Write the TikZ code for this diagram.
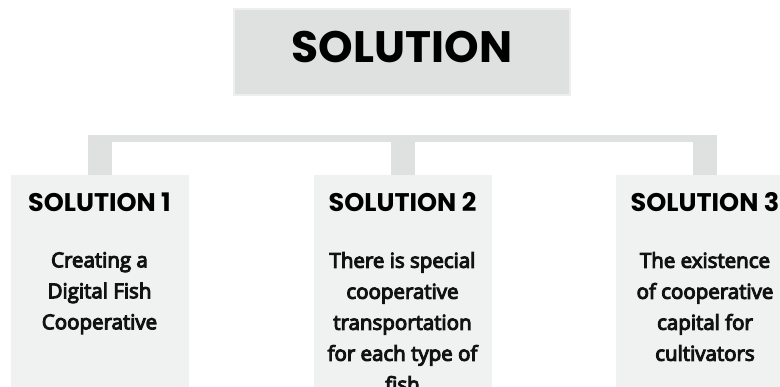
\documentclass[tikz,border=0pt]{standalone}
\usepackage{fontspec}
\setmainfont{Open Sans}[FakeBold=5]
\newfontfamily\headfont{Poppins}
\definecolor{darkgray}{HTML}{DFE0E0}
\definecolor{lightgray}{HTML}{F0F1F1}
\definecolor{edgegray}{HTML}{EDEEEE}

\begin{document}
\begin{tikzpicture}[x=1pt,y=-1pt,
	titlebox/.style={fill=darkgray,draw=edgegray,line width=1.5pt,minimum width=336pt,minimum height=86pt,
	  font=\headfont\bfseries\fontsize{44}{44}\selectfont,text depth=9.5pt},
	solbox/.style={fill=lightgray,minimum width=178pt,minimum height=215pt,anchor=north,inner sep=0pt},
	head/.style={font=\headfont\bfseries\fontsize{25.5}{25.5}\selectfont,anchor=base},
	body/.style={font=\fontsize{20.5}{31}\selectfont,align=center,anchor=north,inner sep=0pt,text=black!93},
	link/.style={draw=darkgray,line width=24pt}]
	\useasboundingbox (0,0) rectangle (780,387);
	\node[titlebox] (sol) at (402,52) {SOLUTION};
	\coordinate (top) at (402,135);
	\coordinate (bar) at (402,138.5);
	\foreach \n/\x/\txt in {1/99.5/{Creating a\\Digital Fish\\Cooperative},
	  2/402.5/{There is special\\cooperative\\transportation\\for each type of\\fish},
	  3/705/{The existence\\of cooperative\\capital for\\cultivators}}{
	  \node[solbox] (s\n) at (\x,175) {};
	  \draw[link] (s\n.north) -- (s\n.north |- top);
	  \node[head] (h\n) at (\x,212) {SOLUTION \n};
	  \node[body] (b\n) at (\x,252) {\txt};
	}
	\draw[draw=darkgray,line width=7pt] ([xshift=-12pt]s1.north |- bar) -- ([xshift=12pt]s3.north |- bar);
\end{tikzpicture}
\end{document}
